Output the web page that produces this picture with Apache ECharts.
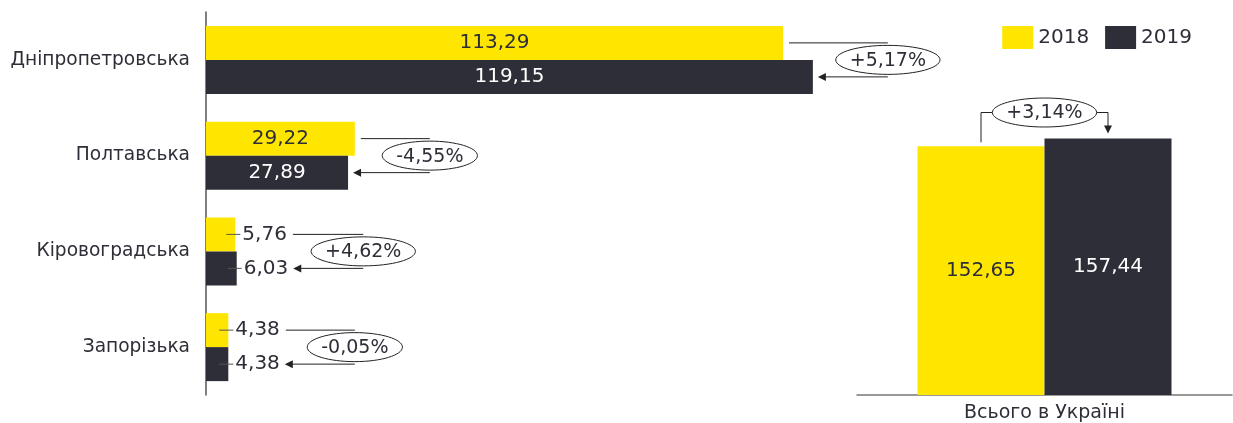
<!DOCTYPE html>
<html>
<head>
<meta charset="utf-8">
<script src="https://cdn.jsdelivr.net/npm/echarts@6/dist/echarts.min.js"></script>
<style>
  html, body { margin: 0; background: #fff; }
  #chart { width: 1233px; height: 423px; }
</style>
</head>
<body>
<div id="chart"></div>
<script>
    // дані
    const regions = ['Дніпропетровська', 'Полтавська', 'Кіровоградська', 'Запорізька'];
    const values2018 = [113.29, 29.22, 5.76, 4.38];
    const values2019 = [119.15, 27.89, 6.03, 4.38];
    const changes = ['+5,17%', '-4,55%', '+4,62%', '-0,05%'];
    const totalCategory = ['Всього в Україні'];
    const total2018 = [152.65];
    const total2019 = [157.44];
    const totalChange = ['+3,14%'];

    const YELLOW = '#FFE600';
    const DARK = '#2E2E38';
    const TEXT = '#2E2E38';
    const FONT = 'DejaVu Sans';

    const fmt = v => v.toFixed(2).replace('.', ',');

    const ctx = document.createElement('canvas').getContext('2d');
    function textWidth(t, size) {
        ctx.font = size + 'px "' + FONT + '"';
        return ctx.measureText(t).width;
    }

    function barData(values, color) {
        return values.map(v => {
            const small = v < 12;
            return {
                value: v,
                label: small
                    ? {position: 'right', distance: 7, color: TEXT}
                    : {position: 'inside', color: color}
            };
        });
    }

    function arrowLeft(x, y) {
        return {type: 'polygon', shape: {points: [[x, y], [x + 8, y - 4], [x + 8, y + 4]]}, style: {fill: '#222'}};
    }

    function bubble(cx, cy, text) {
        const rx = textWidth(text, 19) / 2 + 14;
        return [
            {type: 'ellipse', shape: {cx: cx, cy: cy, rx: rx, ry: 14.5}, style: {fill: '#fff', stroke: '#222', lineWidth: 1}},
            {type: 'text', style: {text: text, x: cx, y: cy + 1, align: 'center', verticalAlign: 'middle',
                font: '19px "' + FONT + '"', fill: TEXT}}
        ];
    }

    function renderRegion(params, api) {
        const i = params.dataIndex;
        const base = api.coord([0, i]);
        const y18 = base[1] - 17, y19 = base[1] + 17;
        const e18 = api.coord([values2018[i], i])[0];
        const e19 = api.coord([values2019[i], i])[0];
        const out18 = values2018[i] < 12, out19 = values2019[i] < 12;
        const r18 = out18 ? e18 + 7 + textWidth(fmt(values2018[i]), 20) : e18;
        const r19 = out19 ? e19 + 7 + textWidth(fmt(values2019[i]), 20) : e19;
        const cx = Math.max(r18, r19) + 75;
        const ls = {stroke: '#222', lineWidth: 1};
        const kids = [];
        if (out18) kids.push({type: 'line', shape: {x1: e18 - 9, y1: y18, x2: e18 + 5, y2: y18}, style: {stroke: '#555', lineWidth: 1}});
        if (out19) kids.push({type: 'line', shape: {x1: e19 - 9, y1: y19, x2: e19 + 5, y2: y19}, style: {stroke: '#555', lineWidth: 1}});
        kids.push({type: 'line', shape: {x1: r18 + 6, y1: y18, x2: cx, y2: y18}, style: ls});
        kids.push({type: 'line', shape: {x1: r19 + 12, y1: y19, x2: cx, y2: y19}, style: ls});
        kids.push(arrowLeft(r19 + 5, y19));
        return {type: 'group', children: kids.concat(bubble(cx, base[1], changes[i]))};
    }

    function renderTotal(params, api) {
        const base = api.coord([0, 0]);
        const x18 = base[0] - 63.5, x19 = base[0] + 63.5;
        const t18 = api.coord([0, total2018[0]])[1];
        const t19 = api.coord([0, total2019[0]])[1];
        const ey = t19 - 26;
        const rx = textWidth(totalChange[0], 19) / 2 + 14;
        const ls = {stroke: '#222', lineWidth: 1, fill: null};
        return {type: 'group', children: [
            {type: 'polyline', shape: {points: [[x18, t18 - 4], [x18, ey], [base[0] - rx, ey]]}, style: ls},
            {type: 'polyline', shape: {points: [[base[0] + rx, ey], [x19, ey], [x19, t19 - 12]]}, style: ls},
            {type: 'polygon', shape: {points: [[x19, t19 - 5], [x19 - 4, t19 - 13], [x19 + 4, t19 - 13]]}, style: {fill: '#222'}}
        ].concat(bubble(base[0], ey, totalChange[0]))};
    }

    const chart = echarts.init(document.getElementById('chart'));
    const options = {
        animation: false,
        textStyle: {fontFamily: FONT},
        legend: {
            data: ['2018', '2019'],
            right: 36,
            top: 21,
            icon: 'rect',
            itemWidth: 31,
            itemHeight: 23,
            itemGap: 16,
            itemStyle: {borderWidth: 0},
            textStyle: {fontSize: 20, color: TEXT, fontFamily: FONT}
        },
        grid: [
            {left: 206, top: 12, width: 764, height: 383},
            {left: 857, right: 1, top: 4, bottom: 26}
        ],
        xAxis: [
            {gridIndex: 0, type: 'value', min: 0, max: 150, show: false},
            {
                gridIndex: 1, type: 'category', data: totalCategory,
                axisLine: {lineStyle: {color: '#777', width: 1.5}},
                axisTick: {show: false},
                axisLabel: {fontSize: 19, color: TEXT, margin: 9}
            }
        ],
        yAxis: [
            {
                gridIndex: 0, type: 'category', data: regions, inverse: true,
                axisLine: {lineStyle: {color: '#555', width: 1.5}},
                axisTick: {show: false},
                axisLabel: {fontSize: 18.6, color: TEXT, margin: 16}
            },
            {gridIndex: 1, type: 'value', min: 0, max: 240, show: false}
        ],
        series: [
            {
                name: '2018', type: 'bar', xAxisIndex: 0, yAxisIndex: 0,
                data: barData(values2018, DARK), barWidth: 34, barGap: '0%',
                itemStyle: {color: YELLOW},
                label: {show: true, fontSize: 20, formatter: p => fmt(p.value)}
            },
            {
                name: '2019', type: 'bar', xAxisIndex: 0, yAxisIndex: 0,
                data: barData(values2019, '#fff'), barWidth: 34, barGap: '0%',
                itemStyle: {color: DARK},
                label: {show: true, fontSize: 20, formatter: p => fmt(p.value)}
            },
            {
                name: '2018', type: 'bar', xAxisIndex: 1, yAxisIndex: 1,
                data: total2018, barWidth: 127, barGap: '0%',
                itemStyle: {color: YELLOW},
                label: {show: true, position: 'inside', fontSize: 20, color: DARK, formatter: p => fmt(p.value)}
            },
            {
                name: '2019', type: 'bar', xAxisIndex: 1, yAxisIndex: 1,
                data: total2019, barWidth: 127, barGap: '0%',
                itemStyle: {color: DARK},
                label: {show: true, position: 'inside', fontSize: 20, color: '#fff', formatter: p => fmt(p.value)}
            },
            {
                name: 'changes', type: 'custom', xAxisIndex: 0, yAxisIndex: 0,
                data: values2019.map((v, i) => [v, i]),
                encode: {x: 0, y: 1},
                clip: false, silent: true, z: 5,
                renderItem: renderRegion
            },
            {
                name: 'totalChange', type: 'custom', xAxisIndex: 1, yAxisIndex: 1,
                data: [[0, total2019[0]]],
                encode: {x: 0, y: 1},
                clip: false, silent: true, z: 5,
                renderItem: renderTotal
            }
        ]
    };
    chart.setOption(options);
    window.addEventListener('resize', () => {
        chart.resize();
    });
</script>
</body>
</html>
